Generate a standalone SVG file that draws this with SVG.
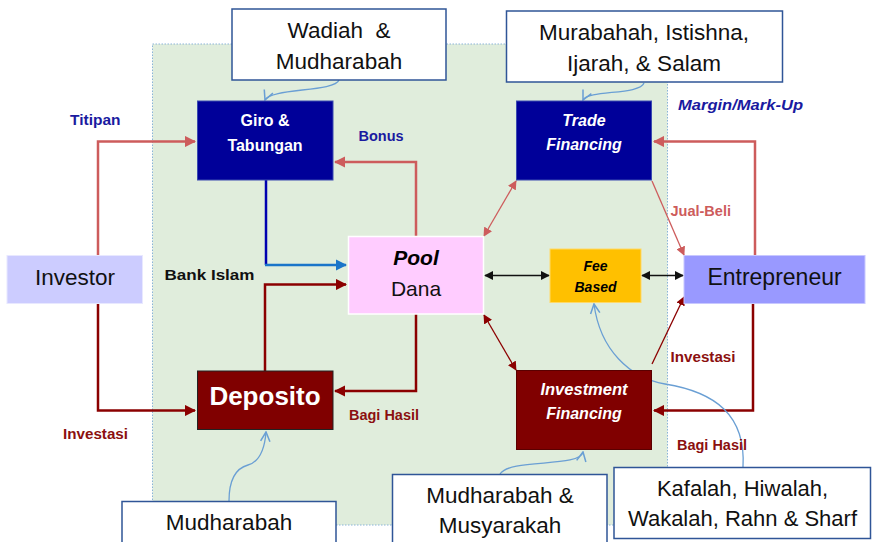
<svg xmlns="http://www.w3.org/2000/svg" width="872" height="542" viewBox="0 0 872 542">
<style>
text{font-family:"Liberation Sans",Arial,sans-serif;text-anchor:middle}
.big{font-size:22.5px;fill:#111}
.wb{font-size:16px;font-weight:bold;fill:#fff}
.wbi{font-size:16px;font-weight:bold;font-style:italic;fill:#fff}
.lbl{font-size:14.5px;font-weight:bold;text-anchor:start}
.note{fill:#fff;stroke:#2f5597;stroke-width:1.5}
.lr{fill:none;stroke:#cd5c5c;stroke-width:2.5}
.dr{fill:none;stroke:#8b0000;stroke-width:2.5}
.thin{fill:none;stroke:#6a9fd4;stroke-width:1.3}
</style>
<defs>
<marker id="aLR" viewBox="0 0 10 10" refX="9" refY="5" markerWidth="4.5" markerHeight="4.5" orient="auto-start-reverse"><path d="M0,0L10,5L0,10z" fill="#cd5c5c"/></marker>
<marker id="aDR" viewBox="0 0 10 10" refX="9" refY="5" markerWidth="4.5" markerHeight="4.5" orient="auto-start-reverse"><path d="M0,0L10,5L0,10z" fill="#8b0000"/></marker>
<marker id="aLR2" viewBox="0 0 10 10" refX="9" refY="5" markerWidth="7" markerHeight="7" orient="auto-start-reverse"><path d="M0,0L10,5L0,10z" fill="#cd5c5c"/></marker>
<marker id="aDR2" viewBox="0 0 10 10" refX="9" refY="5" markerWidth="7" markerHeight="7" orient="auto-start-reverse"><path d="M0,0L10,5L0,10z" fill="#8b0000"/></marker>
<marker id="aBL" viewBox="0 0 10 10" refX="9" refY="5" markerWidth="4.5" markerHeight="4.5" orient="auto"><path d="M0,0L10,5L0,10z" fill="#1a75c9"/></marker>
<marker id="aK" viewBox="0 0 10 10" refX="9" refY="5" markerWidth="7" markerHeight="7" orient="auto-start-reverse"><path d="M0,0L10,5L0,10z" fill="#111"/></marker>
<marker id="aO" viewBox="0 0 10 10" refX="9" refY="5" markerWidth="9" markerHeight="9" orient="auto"><path d="M1,1L9,5L1,9" fill="none" stroke="#6a9fd4" stroke-width="1.3"/></marker>
</defs>
<rect width="872" height="542" fill="#fff"/>
<rect id="bank" x="152.5" y="44" width="515" height="481" fill="#e0eddc" stroke="#8ab4d8" stroke-width="1" stroke-dasharray="1.5 1.5"/>

<g id="connectors">
<path class="lr" d="M98,255V141.5H195" marker-end="url(#aLR)"/>
<path class="dr" d="M98,304V410.5H195" marker-end="url(#aDR)"/>
<path class="lr" d="M416,236V162H335" marker-end="url(#aLR)"/>
<path class="dr" d="M416,314V391H335" marker-end="url(#aDR)"/>
<path d="M266,180V265" fill="none" stroke="#0000b0" stroke-width="2.5"/>
<path d="M265,265H346" fill="none" stroke="#1a75c9" stroke-width="2.5" marker-end="url(#aBL)"/>
<path class="dr" d="M265,371V284.5H346" marker-end="url(#aDR)"/>
<path d="M484,236L516,181" fill="none" stroke="#cd5c5c" stroke-width="1.3" marker-start="url(#aLR2)" marker-end="url(#aLR2)"/>
<path d="M652,181L684,255" fill="none" stroke="#cd5c5c" stroke-width="1.3" marker-end="url(#aLR2)"/>
<path class="lr" d="M755,255V141.5H654" marker-end="url(#aLR)"/>
<path d="M484,315L516,370" fill="none" stroke="#8b0000" stroke-width="1.3" marker-start="url(#aDR2)" marker-end="url(#aDR2)"/>
<path d="M652,364L684,297" fill="none" stroke="#8b0000" stroke-width="1.3" marker-end="url(#aDR2)"/>
<path class="dr" d="M753,304V410.5H654" marker-end="url(#aDR)"/>
<path d="M485,275.5H549" fill="none" stroke="#111" stroke-width="1.3" marker-start="url(#aK)" marker-end="url(#aK)"/>
<path d="M642,275.5H683" fill="none" stroke="#111" stroke-width="1.3" marker-start="url(#aK)" marker-end="url(#aK)"/>
<path class="thin" d="M339,80C335,92 270,88 265,100" marker-end="url(#aO)"/>
<path class="thin" d="M644,83C640,95 588,90 583,100" marker-end="url(#aO)"/>
<path class="thin" d="M229,501C229,478 237,468 248,465C262,461 265,445 266,432" marker-end="url(#aO)"/>
<path class="thin" d="M500,474C510,458 580,468 583,452" marker-end="url(#aO)"/>
<path class="thin" d="M743,467C746,415 715,392 665,384C630,378 600,350 594,304" marker-end="url(#aO)"/>
</g>

<g id="wadiah"><rect class="note" x="232" y="9" width="214" height="71"/><text class="big" x="339" y="37.5" xml:space="preserve">Wadiah  &amp;</text><text class="big" x="339" y="68.5">Mudharabah</text></g>
<g id="murabahah"><rect class="note" x="506.5" y="11" width="276" height="71"/><text class="big" x="644" y="40">Murabahah, Istishna,</text><text class="big" x="644" y="71">Ijarah, &amp; Salam</text></g>
<g id="giro"><rect x="197.5" y="101" width="135.5" height="79" fill="#000099" stroke="#3a4ab0" stroke-width="1"/><text class="wb" x="265" y="126">Giro &amp;</text><text class="wb" x="265" y="150.5">Tabungan</text></g>
<g id="trade"><rect x="516.5" y="101" width="135" height="79" fill="#000099" stroke="#3a4ab0" stroke-width="1"/><text class="wbi" x="584" y="125.5">Trade</text><text class="wbi" x="584" y="150">Financing</text></g>
<g id="investor"><rect x="7" y="255.5" width="135.5" height="48" fill="#ccccff" stroke="#e8e8ff" stroke-width="1"/><text class="big" x="75" y="284.5">Investor</text></g>
<g id="pool"><rect x="348.5" y="236.5" width="135" height="77.5" fill="#ffccff" stroke="#fff" stroke-width="1.5"/><text x="416" y="264.5" style="font-size:21px;font-weight:bold;font-style:italic;fill:#000">Pool</text><text x="416" y="295.5" style="font-size:21px;fill:#111">Dana</text></g>
<g id="fee"><rect x="550" y="249" width="91" height="53.5" fill="#ffc000" stroke="#ffd966" stroke-width="1"/><text x="595.5" y="270.5" style="font-size:14px;font-weight:bold;font-style:italic;fill:#000">Fee</text><text x="595.5" y="291.5" style="font-size:14px;font-weight:bold;font-style:italic;fill:#000">Based</text></g>
<g id="entrepreneur"><rect x="684" y="255.5" width="181" height="48" fill="#9999ff" stroke="#c8c8ff" stroke-width="1"/><text class="big" x="774.5" y="284.5" style="font-size:23px">Entrepreneur</text></g>
<g id="deposito"><rect x="197.5" y="371" width="135.5" height="58.5" fill="#800000" stroke="#222" stroke-width="1"/><text x="265" y="404.5" style="font-size:26px;font-weight:bold;fill:#fff">Deposito</text></g>
<g id="investment"><rect x="516.5" y="370.5" width="135" height="79" fill="#800000" stroke="#5a0000" stroke-width="1"/><text class="wbi" x="584" y="395" style="font-size:16.5px">Investment</text><text class="wbi" x="584" y="418.5">Financing</text></g>
<g id="mudharabah"><rect class="note" x="122" y="501.5" width="214" height="45"/><text class="big" x="229" y="530">Mudharabah</text></g>
<g id="musyarakah"><rect class="note" x="392.5" y="474.5" width="214.5" height="72"/><text class="big" x="500" y="503">Mudharabah &amp;</text><text class="big" x="500" y="533">Musyarakah</text></g>
<g id="kafalah"><rect class="note" x="614" y="467.5" width="256.5" height="71"/><text class="big" x="742.5" y="496" style="font-size:22px">Kafalah, Hiwalah,</text><text class="big" x="742.5" y="526" style="font-size:22px">Wakalah, Rahn &amp; Sharf</text></g>

<g id="labels">
<text class="lbl" x="70" y="125" style="fill:#1a1aa0" textLength="50.5" lengthAdjust="spacingAndGlyphs">Titipan</text>
<text class="lbl" x="358.5" y="140.5" style="fill:#1a1aa0">Bonus</text>
<text class="lbl" x="678" y="110" style="fill:#1a1aa0;font-style:italic" textLength="125" lengthAdjust="spacingAndGlyphs">Margin/Mark-Up</text>
<text class="lbl" x="670.5" y="216" style="fill:#cd5c5c">Jual-Beli</text>
<text class="lbl" x="164.5" y="280" style="fill:#111;font-size:15.5px" textLength="90" lengthAdjust="spacingAndGlyphs">Bank Islam</text>
<text class="lbl" x="670.5" y="361.5" style="fill:#8b1010" textLength="65" lengthAdjust="spacingAndGlyphs">Investasi</text>
<text class="lbl" x="349" y="419.5" style="fill:#8b1010" textLength="70" lengthAdjust="spacingAndGlyphs">Bagi Hasil</text>
<text class="lbl" x="63" y="438.5" style="fill:#8b1010" textLength="65" lengthAdjust="spacingAndGlyphs">Investasi</text>
<text class="lbl" x="677" y="450" style="fill:#8b1010" textLength="70" lengthAdjust="spacingAndGlyphs">Bagi Hasil</text>
</g>
</svg>
